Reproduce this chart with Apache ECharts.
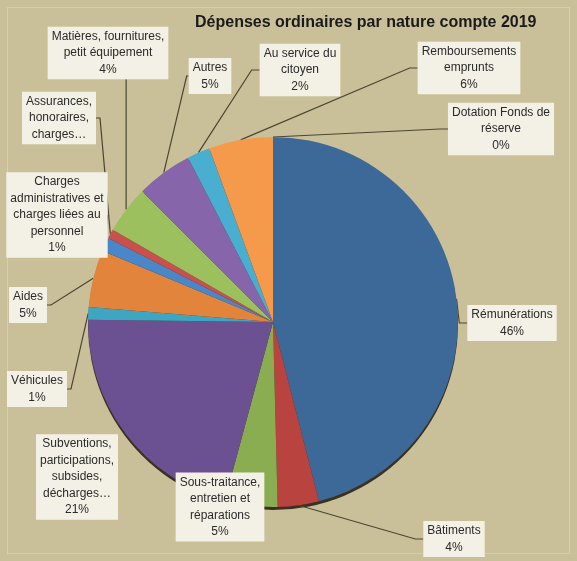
<!DOCTYPE html>
<html><head><meta charset="utf-8">
<script src="https://cdn.jsdelivr.net/npm/echarts@6/dist/echarts.min.js"></script>
<style>html,body{margin:0;padding:0;background:#c9c09a;}#c{width:577px;height:561px;}</style>
</head><body><div id="c"></div>
<script>
// Data (clockwise from 12 o'clock)
const categories = [
  'Rémunérations',
  'Bâtiments',
  'Sous-traitance,\nentretien et\nréparations',
  'Subventions,\nparticipations,\nsubsides,\ndécharges…',
  'Véhicules',
  'Aides',
  'Charges\nadministratives et\ncharges liées au\npersonnel',
  'Assurances,\nhonoraires,\ncharges…',
  'Matières, fournitures,\npetit équipement',
  'Autres',
  'Au service du\ncitoyen',
  'Remboursements\nemprunts',
  'Dotation Fonds de\nréserve'
];
const values = [46.0, 3.6, 4.6, 21.0, 1.1, 5.0, 1.2, 0.8, 4.2, 4.9, 2.0, 5.6, 0];
const percentLabels = ['46%', '4%', '5%', '21%', '1%', '5%', '1%', '', '4%', '5%', '2%', '6%', '0%'];

// Styles / layout (kept separate from data)
const sliceColors = ['#3d6999', '#b8433f', '#8aad52', '#6b5192', '#3fa6c2', '#e2843c',
  '#4a87c9', '#c9504c', '#9cc05e', '#8665aa', '#4aaed0', '#f5994a', '#3d6999'];
const labelCenters = [
  [512, 323], [454, 539], [220, 507], [77, 477], [37, 389], [28, 305],
  [57, 215], [59, 118], [108, 53], [210, 76], [300, 70], [469, 68], [501, 129]
];
// how each leader line reaches its label box
const lineRoutes = ['auto', 'auto', 'none', 'none', 'right', 'right',
  'auto', 'right', 'vertical', 'left', 'auto', 'auto', 'auto'];

const chart = echarts.init(document.getElementById('c'), null, {renderer: 'canvas'});
const font = '"Liberation Sans", Arial, sans-serif';
const pieCenter = [273, 322];
const pieRadius = 185;

const total = values.reduce((a, b) => a + b, 0);
const midAngles = [];
{ let acc = 0; values.forEach(v => { midAngles.push((acc + v / 2) / total * 2 * Math.PI); acc += v; }); }
function arcPoint(i) {
  const t = midAngles[i];
  return [pieCenter[0] + pieRadius * Math.sin(t), pieCenter[1] - pieRadius * Math.cos(t)];
}

chart.setOption({
  backgroundColor: '#c9c09a',
  animation: false,
  title: {
    text: 'Dépenses ordinaires par nature compte 2019',
    left: 190, top: 10,
    textStyle: {fontFamily: font, fontSize: 16, fontWeight: 'bold', color: '#1a1a1a'}
  },
  graphic: [
    {type: 'rect', shape: {x: 7.5, y: 7.5, width: 562, height: 546},
     style: {fill: 'none', stroke: 'rgba(255,255,255,0.22)', lineWidth: 1}, silent: true}
  ],
  series: [
    {
      type: 'pie', silent: true, z: 1,
      center: [pieCenter[0], pieCenter[1] + 3], radius: pieRadius,
      label: {show: false}, labelLine: {show: false},
      itemStyle: {color: '#3a3220'},
      data: [1]
    },
    {
      type: 'pie', z: 2,
      center: pieCenter, radius: pieRadius,
      startAngle: 90, clockwise: true,
      avoidLabelOverlap: false,
      minShowLabelAngle: 0,
      data: categories.map((c, i) => ({
        name: c, value: values[i],
        itemStyle: {color: sliceColors[i]},
        labelLine: {show: lineRoutes[i] !== 'none'}
      })),
      itemStyle: {borderWidth: 0},
      label: {
        show: true,
        formatter: p => percentLabels[p.dataIndex] ? p.name + '\n' + percentLabels[p.dataIndex] : p.name,
        fontFamily: font, fontSize: 12, lineHeight: 16.5,
        color: '#2a2a2a', align: 'center',
        backgroundColor: '#f3f1e6', padding: [2, 4, 1, 4]
      },
      labelLine: {show: true, length: 10, length2: 8, lineStyle: {color: '#4b4531', width: 1.2}},
      labelLayout: params => {
        const i = params.dataIndex;
        const c = labelCenters[i];
        const out = {x: c[0], y: c[1], align: 'center', verticalAlign: 'middle'};
        const w = params.labelRect.width, h = params.labelRect.height;
        const left = c[0] - w / 2, right = c[0] + w / 2, bottom = c[1] + h / 2;
        const a = arcPoint(i);
        const r = lineRoutes[i];
        if (r === 'right') {
          out.labelLinePoints = [a, [right + 4, c[1]], [right, c[1]]];
        } else if (r === 'left') {
          out.labelLinePoints = [a, [left - 2, c[1]], [left, c[1]]];
        } else if (r === 'vertical') {
          out.labelLinePoints = [a, [a[0], bottom + 1], [a[0], bottom]];
        }
        return out;
      }
    }
  ]
});
</script>
</body></html>
